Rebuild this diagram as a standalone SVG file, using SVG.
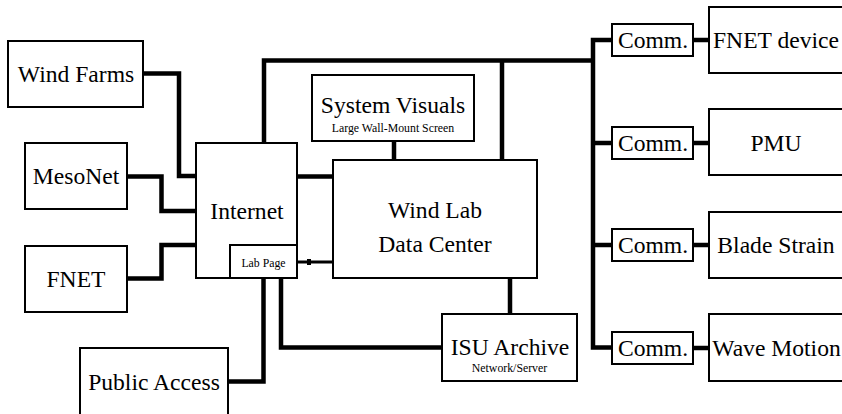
<svg xmlns="http://www.w3.org/2000/svg" width="842" height="414" viewBox="0 0 842 414">
<style>
.box{fill:#fff;stroke:#000;stroke-width:2}
.c{fill:none;stroke:#000;stroke-width:4.5;stroke-linejoin:miter;stroke-linecap:butt}
.thin{stroke-width:3}
text{font-family:'Liberation Serif','DejaVu Serif',serif;fill:#000;text-anchor:middle}
.big{font-size:23.6px}
.sm{font-size:11.8px}
</style>
<rect width="842" height="414" fill="#fff"/>
<g id="connectors">
<path class="c" d="M143,73.5 H179 V176 H196"/>
<path class="c" d="M127,176.5 H161.5 V211 H196"/>
<path class="c" d="M127,278.5 H161.5 V245 H196"/>
<path class="c" d="M229,381.5 H263.5 V278"/>
<path class="c" d="M281,278 V347.5 H442"/>
<path class="c" d="M264,143 V60.5 H593"/>
<path class="c" d="M502,60.5 V160"/>
<path class="c" d="M394,141 V160"/>
<path class="c" d="M297,176.5 H333"/>
<path class="c thin" d="M297,262 H333"/>
<rect x="307" y="259" width="4" height="6" fill="#000"/>
<path class="c" d="M510,278 V314"/>
<path class="c" d="M612,40 H593 V347.5 H612"/>
<path class="c" d="M593,143 H612"/>
<path class="c" d="M593,245 H612"/>
<path class="c" d="M693,40 H709"/>
<path class="c" d="M693,143 H709"/>
<path class="c" d="M693,245 H709"/>
<path class="c" d="M693,348 H709"/>
</g>
<g id="wind-farms"><rect class="box" x="8" y="41" width="135" height="66"/><text class="big" x="76" y="81.5">Wind Farms</text></g>
<g id="mesonet"><rect class="box" x="25" y="143" width="102" height="66"/><text class="big" x="76" y="184">MesoNet</text></g>
<g id="fnet"><rect class="box" x="25" y="246" width="102" height="66"/><text class="big" x="76" y="287">FNET</text></g>
<g id="public-access"><rect class="box" x="80" y="348" width="148" height="70"/><text class="big" x="154" y="390">Public Access</text></g>
<g id="internet"><rect class="box" x="196" y="143" width="101" height="135"/><text class="big" x="247" y="219">Internet</text></g>
<g id="lab-page"><rect class="box" x="230" y="245" width="67" height="33"/><text class="sm" x="263.5" y="267">Lab Page</text></g>
<g id="system-visuals"><rect class="box" x="312" y="75" width="162" height="66"/><text class="big" x="393" y="113">System Visuals</text><text class="sm" x="393" y="132">Large Wall-Mount Screen</text></g>
<g id="data-center"><rect class="box" x="333" y="160" width="204" height="118"/><text class="big" x="435" y="218">Wind Lab</text><text class="big" x="435" y="252">Data Center</text></g>
<g id="isu-archive"><rect class="box" x="442" y="314" width="135" height="67"/><text class="big" x="510" y="355">ISU Archive</text><text class="sm" x="509.5" y="372">Network/Server</text></g>
<g id="comm-1"><rect class="box" x="612" y="24" width="81" height="32"/><text class="big" x="653" y="48">Comm.</text></g>
<g id="comm-2"><rect class="box" x="612" y="127" width="81" height="32"/><text class="big" x="653" y="151">Comm.</text></g>
<g id="comm-3"><rect class="box" x="612" y="229" width="81" height="32"/><text class="big" x="653" y="253">Comm.</text></g>
<g id="comm-4"><rect class="box" x="612" y="332" width="81" height="32"/><text class="big" x="653" y="356">Comm.</text></g>
<g id="fnet-device"><rect class="box" x="709" y="7" width="136" height="66"/><text class="big" x="776" y="48">FNET device</text></g>
<g id="pmu"><rect class="box" x="709" y="109" width="136" height="66"/><text class="big" x="776" y="151">PMU</text></g>
<g id="blade-strain"><rect class="box" x="709" y="212" width="136" height="66"/><text class="big" x="776" y="253">Blade Strain</text></g>
<g id="wave-motion"><rect class="box" x="709" y="314" width="136" height="67"/><text class="big" x="776.5" y="356">Wave Motion</text></g>
</svg>
